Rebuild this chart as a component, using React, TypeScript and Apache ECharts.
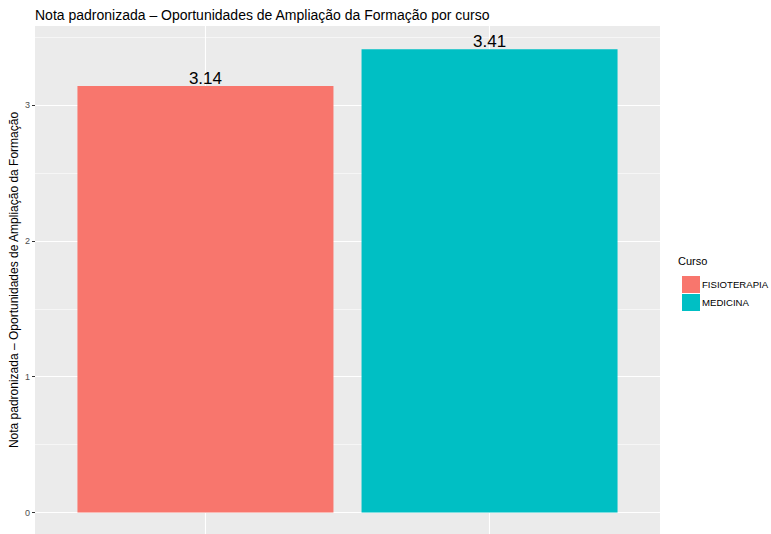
import React, { useEffect, useRef } from "react";
import * as echarts from "echarts";

const courses = ["FISIOTERAPIA", "MEDICINA"];
const scores = [3.14, 3.41];
const colors = ["#F8766D", "#00BFC4"];
const positions = [1, 2];
const majorTicks = [0, 1, 2, 3];
const minorTicks = [0.5, 1.5, 2.5, 3.5];
const titleText = "Nota padronizada – Oportunidades de Ampliação da Formação por curso";
const yName = "Nota padronizada – Oportunidades de Ampliação da Formação";
const legendTitle = "Curso";

const FONT = "Liberation Sans, Arial, Helvetica, sans-serif";

export default function App() {
  const ref = useRef<HTMLDivElement>(null);
  useEffect(() => {
    if (!ref.current) return;
    const chart = echarts.init(ref.current, null, { renderer: "svg" });
    const gridLines = {
      silent: true,
      symbol: ["none", "none"],
      z: 1,
      label: { show: false },
      emphasis: { disabled: true },
      data: [
        ...majorTicks.map((v) => ({ yAxis: v, lineStyle: { color: "#FFFFFF", width: 1.1, type: "solid" } })),
        ...minorTicks.map((v) => ({ yAxis: v, lineStyle: { color: "#FFFFFF", width: 0.55, type: "solid" } })),
        ...positions.map((v) => ({ xAxis: v, lineStyle: { color: "#FFFFFF", width: 1.1, type: "solid" } })),
      ],
    };
    chart.setOption({
      animation: false,
      backgroundColor: "#FFFFFF",
      title: {
        text: titleText,
        left: 30,
        top: 3,
        textStyle: { fontFamily: FONT, fontSize: 14, fontWeight: "normal", color: "#000000" },
      },
      grid: {
        left: 35,
        right: 111,
        top: 26,
        bottom: 0,
        show: true,
        backgroundColor: "#EBEBEB",
        borderWidth: 0,
        containLabel: false,
        outerBoundsMode: "none",
      },
      xAxis: {
        type: "value",
        min: 0.4,
        max: 2.6,
        axisLine: { show: false },
        axisTick: { show: false },
        axisLabel: { show: false },
        splitLine: { show: false },
      },
      yAxis: {
        type: "value",
        min: -0.158,
        max: 3.582,
        name: yName,
        nameLocation: "middle",
        nameGap: 15,
        nameMoveOverlap: false,
        nameRotate: 90,
        nameTextStyle: { fontFamily: FONT, fontSize: 12, color: "#000000" },
        axisLine: { show: false },
        axisTick: { show: true, length: 3, lineStyle: { color: "#333333", width: 1 }, customValues: majorTicks },
        axisLabel: { fontFamily: FONT, fontSize: 9, color: "#4D4D4D", margin: 5, customValues: majorTicks },
        splitLine: { show: false },
      },
      legend: {
        orient: "vertical",
        left: 677,
        top: 271,
        itemWidth: 18,
        itemHeight: 17,
        itemGap: 1,
        icon: "rect",
        data: courses,
        textStyle: { fontFamily: FONT, fontSize: 9.6, color: "#000000", padding: [0, 0, 0, -3] },
      },
      graphic: [
        {
          type: "text",
          left: 678,
          top: 255,
          style: { text: legendTitle, fontFamily: FONT, fontSize: 11, fill: "#000000" },
        },
      ],
      series: courses.map((c, i) => ({
        name: c,
        type: "bar",
        data: [[positions[i], scores[i]]],
        barWidth: 256,
        barGap: "-100%",
        z: 2,
        itemStyle: { color: colors[i] },
        label: {
          show: true,
          position: "top",
          distance: -1,
          formatter: (p: any) => p.value[1].toFixed(2),
          fontFamily: FONT,
          fontSize: 17,
          color: "#000000",
        },
        emphasis: { disabled: true },
        markLine: i === 0 ? gridLines : undefined,
      })),
    });
    return () => chart.dispose();
  }, []);
  return <div ref={ref} style={{ position: "fixed", left: 0, top: 0, width: 771, height: 534 }} />;
}
